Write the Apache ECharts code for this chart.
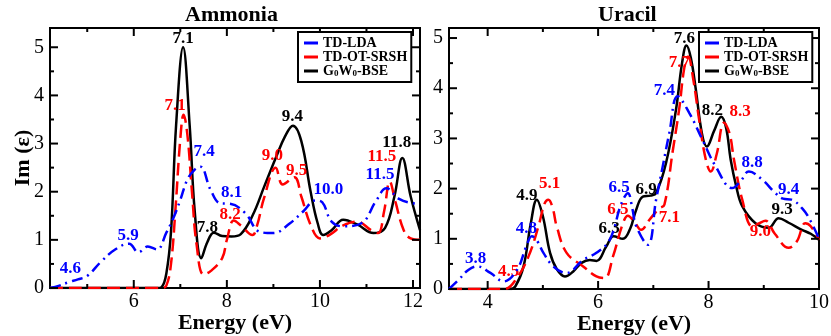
<!DOCTYPE html>
<html>
<head>
<meta charset="utf-8">
<script src="https://cdn.jsdelivr.net/npm/echarts@6.0.0/dist/echarts.min.js"></script>
<style>
  html, body { margin: 0; padding: 0; background: #fff; }
  #main { width: 831px; height: 336px; }
</style>
</head>
<body>
<div id="main"></div>
<script>
// Ammonia panel
const ammoniaLdaE = [4.2, 4.4, 4.6, 4.8, 5.0, 5.3, 5.6, 5.9, 6.1, 6.3, 6.5, 6.7, 6.85, 7.0, 7.15, 7.3, 7.43, 7.65, 7.86, 8.07, 8.4, 8.7, 9.0, 9.35, 9.65, 9.9, 10.05, 10.25, 10.5, 10.9, 11.2, 11.43, 11.7, 12.0, 12.15]
const ammoniaLdaI = [0, 0.05, 0.12, 0.18, 0.25, 0.55, 0.8, 0.92, 0.74, 0.86, 0.8, 1.15, 1.45, 1.83, 2.25, 2.45, 2.52, 2.04, 1.76, 1.75, 1.55, 1.17, 1.14, 1.34, 1.6, 1.82, 1.78, 1.38, 1.28, 1.35, 1.8, 2.07, 1.85, 1.76, 1.75]
const ammoniaOtE = [4.2, 6.6, 6.7, 6.8, 6.9, 7.0, 7.07, 7.15, 7.25, 7.35, 7.5, 7.65, 7.9, 8.0, 8.15, 8.3, 8.55, 8.65, 8.8, 9.05, 9.2, 9.45, 9.6, 9.8, 10.0, 10.2, 10.5, 10.8, 11.1, 11.25, 11.38, 11.5, 11.62, 11.8, 11.95, 12.15]
const ammoniaOtI = [0, 0, 0.05, 0.5, 1.7, 3.1, 3.6, 3.2, 2.0, 0.9, 0.28, 0.35, 0.62, 1.0, 1.4, 1.3, 1.1, 1.3, 1.87, 2.5, 2.15, 2.3, 1.9, 1.31, 1.03, 1.1, 1.3, 1.38, 1.2, 1.14, 1.6, 2.21, 1.8, 1.2, 1.03, 1.0]
const ammoniaBseE = [4.2, 6.5, 6.6, 6.7, 6.8, 6.91, 7.06, 7.2, 7.31, 7.45, 7.58, 7.72, 7.9, 8.1, 8.3, 8.55, 8.8, 9.05, 9.25, 9.42, 9.6, 9.8, 9.95, 10.07, 10.25, 10.5, 10.8, 11.15, 11.4, 11.6, 11.77, 11.95, 12.15]
const ammoniaBseI = [0, 0, 0.02, 0.3, 1.17, 3.39, 5.0, 3.39, 1.59, 0.62, 0.95, 1.15, 1.08, 1.07, 1.12, 1.5, 2.1, 2.7, 3.15, 3.37, 3.05, 2.0, 1.35, 1.1, 1.2, 1.42, 1.32, 1.14, 1.25, 1.9, 2.7, 1.9, 1.2]

// Uracil panel
const uracilLdaE = [3.3, 3.48, 3.65, 3.81, 4.05, 4.29, 4.53, 4.7, 4.8, 4.9, 5.01, 5.19, 5.43, 5.73, 5.97, 6.21, 6.42, 6.54, 6.62, 6.69, 6.9, 7.05, 7.17, 7.29, 7.44, 7.65, 7.89, 8.13, 8.43, 8.58, 8.73, 8.97, 9.21, 9.35, 9.5, 9.7, 9.85, 10.0]
const uracilLdaI = [0, 0.19, 0.38, 0.45, 0.32, 0.15, 0.38, 0.85, 1.05, 0.95, 0.72, 0.45, 0.32, 0.58, 0.72, 0.98, 1.7, 1.91, 1.6, 1.25, 0.88, 1.78, 2.44, 3.11, 3.84, 3.51, 2.97, 2.44, 2.01, 2.15, 2.34, 2.18, 1.91, 1.8, 1.78, 1.6, 1.35, 1.0]
const uracilOtE = [3.3, 4.3, 4.53, 4.74, 4.92, 5.03, 5.1, 5.18, 5.25, 5.43, 5.73, 5.97, 6.12, 6.27, 6.45, 6.54, 6.65, 6.78, 6.93, 7.1, 7.2, 7.35, 7.47, 7.56, 7.63, 7.72, 7.83, 7.95, 8.04, 8.15, 8.28, 8.38, 8.46, 8.61, 8.79, 8.9, 9.03, 9.2, 9.45, 9.6, 9.75, 9.85, 10.0]
const uracilOtI = [0, 0, 0.22, 0.65, 1.25, 1.7, 1.78, 1.6, 1.25, 0.72, 0.45, 0.25, 0.22, 0.65, 1.31, 1.46, 1.35, 1.18, 1.38, 1.6, 1.68, 2.74, 3.6, 4.4, 4.63, 4.2, 3.37, 2.58, 2.34, 2.7, 3.31, 3.1, 2.58, 1.78, 1.25, 1.3, 1.36, 1.1, 0.82, 0.95, 1.31, 1.25, 0.98]
const uracilBseE = [3.3, 4.4, 4.5, 4.65, 4.78, 4.89, 5.0, 5.13, 5.25, 5.4, 5.55, 5.7, 5.85, 5.97, 6.15, 6.28, 6.45, 6.58, 6.69, 6.81, 6.95, 7.05, 7.23, 7.41, 7.52, 7.6, 7.68, 7.77, 7.88, 7.97, 8.1, 8.23, 8.32, 8.4, 8.5, 8.61, 8.85, 9.09, 9.27, 9.45, 9.69, 9.85, 10.0]
const uracilBseI = [0, 0, 0.05, 0.45, 1.3, 1.78, 1.45, 0.72, 0.4, 0.25, 0.35, 0.52, 0.58, 0.56, 0.85, 1.05, 1.0, 1.2, 1.58, 1.84, 1.86, 1.91, 2.51, 3.57, 4.5, 4.85, 4.6, 3.97, 3.1, 2.84, 3.15, 3.43, 3.2, 2.58, 2.05, 1.65, 1.31, 1.22, 1.41, 1.32, 1.18, 1.1, 0.98]

// peak labels: [energy, Im, text]
const ammoniaLdaNotes = [[4.64, 0.41, '4.6'], [5.88, 1.08, '5.9'], [7.51, 2.83, '7.4'], [8.1, 1.98, '8.1'], [10.18, 2.04, '10.0'], [11.29, 2.35, '11.5']]
const ammoniaOtNotes = [[6.89, 3.78, '7.1'], [8.07, 1.52, '8.2'], [8.98, 2.74, '9.0'], [9.5, 2.44, '9.5'], [11.33, 2.72, '11.5']]
const ammoniaBseNotes = [[7.06, 5.17, '7.1'], [7.58, 1.25, '7.8'], [9.41, 3.55, '9.4'], [11.65, 3.03, '11.8']]
const uracilLdaNotes = [[3.78, 0.6, '3.8'], [4.7, 1.2, '4.8'], [6.38, 2.03, '6.5'], [7.2, 3.96, '7.4'], [8.79, 2.51, '8.8'], [9.45, 1.99, '9.4']]
const uracilOtNotes = [[4.38, 0.35, '4.5'], [5.12, 2.1, '5.1'], [6.36, 1.58, '6.5'], [7.29, 1.43, '7.1'], [7.47, 4.51, '7.7'], [8.57, 3.54, '8.3'], [8.94, 1.15, '9.0']]
const uracilBseNotes = [[4.71, 1.86, '4.9'], [6.2, 1.2, '6.3'], [6.87, 1.99, '6.9'], [7.56, 4.98, '7.6'], [8.07, 3.56, '8.2'], [9.33, 1.58, '9.3']]

// ticks (major ones are labelled)
const ammoniaXMajor = [6, 8, 10, 12]
const ammoniaXMinor = [5, 7, 9, 11]
const uracilXMajor = [4, 6, 8, 10]
const uracilXMinor = [5, 7, 9]
const yMajor = [0, 1, 2, 3, 4, 5]
const yMinor = [0.5, 1.5, 2.5, 3.5, 4.5]

const names = ['TD-LDA', 'TD-OT-SRSH', 'G0W0-BSE']
const colors = ['#0000ff', '#ff0000', '#000000']
const dashes = [[11, 5, 2, 5], [13, 6], 'solid']
const FONT = 'Liberation Serif'
const MAJOR_LEN = 8
const MINOR_LEN = 4

const chart = echarts.init(document.getElementById('main'))

function zip(xs, ys) {
  return xs.map((x, i) => [x, ys[i]])
}

function xAxisFor(grid, min, max, labels) {
  return {
    gridIndex: grid, type: 'value', min: min, max: max, position: 'bottom',
    splitLine: { show: false }, axisLine: { show: false, onZero: false }, axisTick: { show: false },
    axisLabel: { show: true, customValues: labels, color: '#000', fontFamily: FONT, fontSize: 20, margin: 4 },
    name: 'Energy (eV)', nameLocation: 'middle', nameMoveOverlap: false, nameGap: 24,
    nameTextStyle: { color: '#000', fontFamily: FONT, fontSize: 22, fontWeight: 'bold' }
  }
}

function yAxisFor(grid, max, name) {
  return {
    gridIndex: grid, type: 'value', min: 0, max: max, interval: 1, position: 'left',
    splitLine: { show: false }, axisLine: { show: false, onZero: false }, axisTick: { show: false },
    axisLabel: { show: true, customValues: yMajor, color: '#000', fontFamily: FONT, fontSize: 20, margin: 6 },
    name: name, nameLocation: 'middle', nameMoveOverlap: false, nameGap: 16,
    nameTextStyle: { color: '#000', fontFamily: FONT, fontSize: 22, fontWeight: 'bold' }
  }
}

// all inward ticks of one panel, drawn in a single item through the axes' scales
function tickSeries(axisIdx, xMin, xMajor, xMinor) {
  return {
    type: 'custom', xAxisIndex: axisIdx, yAxisIndex: axisIdx, silent: true, z: 10,
    encode: { x: 0, y: 1 },
    data: [[xMin, 0]],
    renderItem: function (params, api) {
      const cs = params.coordSys
      const top = cs.y, bottom = cs.y + cs.height
      const left = cs.x, right = cs.x + cs.width
      const st = { stroke: '#000', lineWidth: 2, fill: null }
      const children = []
      const xTick = (v, len) => {
        const px = api.coord([v, 0])[0]
        children.push({ type: 'line', shape: { x1: px, y1: bottom, x2: px, y2: bottom - len }, style: st })
        children.push({ type: 'line', shape: { x1: px, y1: top, x2: px, y2: top + len }, style: st })
      }
      const yTick = (v, len) => {
        const py = api.coord([xMin, v])[1]
        children.push({ type: 'line', shape: { x1: left, y1: py, x2: left + len, y2: py }, style: st })
        children.push({ type: 'line', shape: { x1: right, y1: py, x2: right - len, y2: py }, style: st })
      }
      xMajor.forEach(v => xTick(v, MAJOR_LEN))
      xMinor.forEach(v => xTick(v, MINOR_LEN))
      yMajor.forEach(v => yTick(v, MAJOR_LEN))
      yMinor.forEach(v => yTick(v, MINOR_LEN))
      return { type: 'group', children: children }
    }
  }
}

function lineSeries(i, axisIdx, data, notes) {
  return {
    name: names[i], type: 'line', xAxisIndex: axisIdx, yAxisIndex: axisIdx,
    data: data, smooth: 0.4, showSymbol: false, symbol: 'none', z: 3 - i + 2,
    lineStyle: { color: colors[i], width: 2.5, type: dashes[i] },
    itemStyle: { color: colors[i] },
    markPoint: {
      symbol: 'circle', symbolSize: 1,
      itemStyle: { color: 'rgba(0,0,0,0)' },
      label: {
        show: true, position: 'inside', color: colors[i],
        fontFamily: FONT, fontSize: 17, fontWeight: 'bold',
        formatter: p => p.name
      },
      data: notes.map(n => ({ name: n[2], coord: [n[0], n[1]] }))
    }
  }
}

function legendAt(left) {
  return {
    orient: 'vertical', left: left, top: 32, z: 20,
    data: names, selectedMode: false,
    icon: 'rect', itemWidth: 14, itemHeight: 3, itemGap: 0, itemTextGap: 20,
    padding: [4, 4, 4, 6],
    borderColor: '#000', borderWidth: 2, backgroundColor: '#fff',
    formatter: n => n === 'G0W0-BSE' ? 'G{s|0}W{s|0}-BSE' : n,
    textStyle: {
      color: '#000', fontFamily: FONT, fontSize: 14, fontWeight: 'bold', lineHeight: 14,
      rich: { s: { fontFamily: FONT, fontSize: 9, fontWeight: 'bold', color: '#000', verticalAlign: 'bottom', lineHeight: 14, padding: [5, 0, 0, 0] } }
    }
  }
}

const option = {
  animation: false,
  backgroundColor: '#fff',
  title: [
    { text: 'Ammonia', left: 185, top: 4, padding: 0, textStyle: { fontFamily: FONT, fontSize: 22, fontWeight: 'bold', color: '#000' } },
    { text: 'Uracil', left: 598, top: 4, padding: 0, textStyle: { fontFamily: FONT, fontSize: 22, fontWeight: 'bold', color: '#000' } }
  ],
  legend: [legendAt(298), legendAt(699)],
  grid: [
    { left: 50, right: 411, top: 28, bottom: 48, show: true, borderColor: '#000', borderWidth: 2, backgroundColor: 'transparent', outerBoundsMode: 'none' },
    { left: 449, right: 12, top: 28, bottom: 47, show: true, borderColor: '#000', borderWidth: 2, backgroundColor: 'transparent', outerBoundsMode: 'none' }
  ],
  xAxis: [xAxisFor(0, 4.2, 12.15, ammoniaXMajor), xAxisFor(1, 3.3, 10, uracilXMajor)],
  yAxis: [yAxisFor(0, 5.4, 'Im (ε)'), yAxisFor(1, 5.2, '')],
  series: [
    tickSeries(0, 4.2, ammoniaXMajor, ammoniaXMinor),
    tickSeries(1, 3.3, uracilXMajor, uracilXMinor),
    lineSeries(0, 0, zip(ammoniaLdaE, ammoniaLdaI), ammoniaLdaNotes),
    lineSeries(1, 0, zip(ammoniaOtE, ammoniaOtI), ammoniaOtNotes),
    lineSeries(2, 0, zip(ammoniaBseE, ammoniaBseI), ammoniaBseNotes),
    lineSeries(0, 1, zip(uracilLdaE, uracilLdaI), uracilLdaNotes),
    lineSeries(1, 1, zip(uracilOtE, uracilOtI), uracilOtNotes),
    lineSeries(2, 1, zip(uracilBseE, uracilBseI), uracilBseNotes)
  ]
}
chart.setOption(option)
</script>
</body>
</html>
